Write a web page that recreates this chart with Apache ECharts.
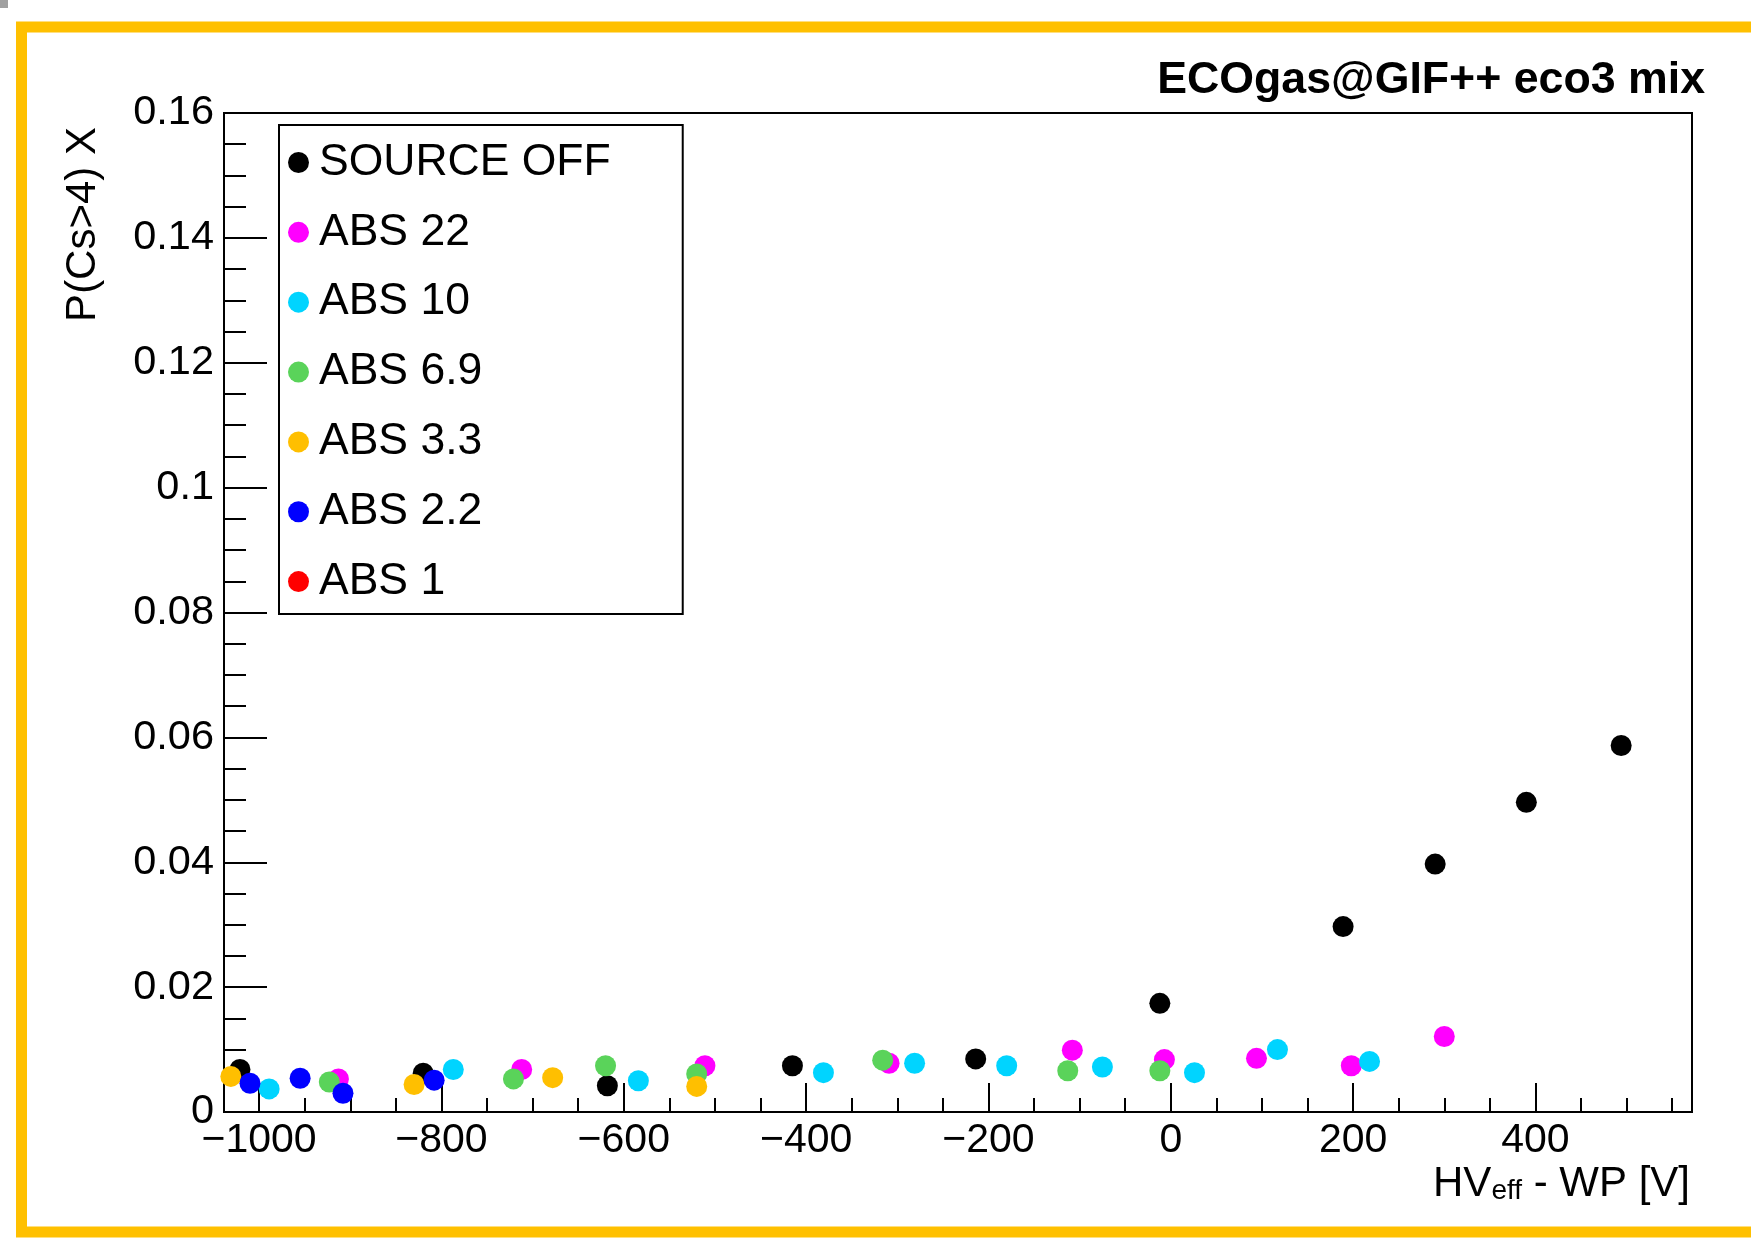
<!DOCTYPE html>
<html><head><meta charset="utf-8">
<script src="https://cdn.jsdelivr.net/npm/echarts@6/dist/echarts.min.js"></script>
<style>html,body{margin:0;padding:0;background:#fff}#c{width:1751px;height:1240px}</style>
</head><body><div id="c"></div>
<script>
const FONT = '"Liberation Sans", Arial, Helvetica, sans-serif';

// ---- data ----
const seriesNames = ['SOURCE OFF', 'ABS 22', 'ABS 10', 'ABS 6.9', 'ABS 3.3', 'ABS 2.2', 'ABS 1'];
const seriesColors = ['#000000', '#ff00ff', '#00d4ff', '#5ad35a', '#ffbf00', '#0000ff', '#ff0000'];

const sourceOffX = [-1021, -820, -618, -415, -214, -12, 189, 290, 390, 494];
const sourceOffY = [0.0068, 0.0062, 0.0042, 0.0074, 0.0085, 0.0174, 0.0297, 0.0397, 0.0496, 0.0587];

const abs22X = [-913, -712, -511, -309, -108, -7, 94, 198, 300];
const abs22Y = [0.0053, 0.0068, 0.0074, 0.0078, 0.0099, 0.0084, 0.0086, 0.0074, 0.0121];

const abs10X = [-989, -787, -584, -381, -281, -180, -75, 26, 117, 218];
const abs10Y = [0.0037, 0.0068, 0.0050, 0.0063, 0.0078, 0.0074, 0.0072, 0.0063, 0.0100, 0.0081];

const abs6p9X = [-923, -721, -620, -520, -316, -113, -12];
const abs6p9Y = [0.0048, 0.0053, 0.0074, 0.0061, 0.0083, 0.0066, 0.0066];

const abs3p3X = [-1031, -830, -678, -520];
const abs3p3Y = [0.0057, 0.0044, 0.0055, 0.0041];

const abs2p2X = [-1010, -955, -908, -808];
const abs2p2Y = [0.0046, 0.0054, 0.0030, 0.0051];

const abs1X = [];
const abs1Y = [];

const xMajorTicks = [-1000, -800, -600, -400, -200, 0, 200, 400];
const xMinorTicks = [-1000, -950, -900, -850, -800, -750, -700, -650, -600, -550, -500, -450, -400,
  -350, -300, -250, -200, -150, -100, -50, 0, 50, 100, 150, 200, 250, 300, 350, 400, 450, 500, 550];

const X_MIN = -1038.5, X_MAX = 571.7;
const Y_MIN = 0, Y_MAX = 0.16, Y_STEP = 0.02;

const titleText = 'ECOgas@GIF++ eco3 mix';
const yTitle = 'P(Cs>4) X';

// ---- build ----
const allX = [sourceOffX, abs22X, abs10X, abs6p9X, abs3p3X, abs2p2X, abs1X];
const allY = [sourceOffY, abs22Y, abs10Y, abs6p9Y, abs3p3Y, abs2p2Y, abs1Y];

const series = seriesNames.map((name, i) => ({
  name: name,
  type: 'scatter',
  xAxisIndex: 0,
  yAxisIndex: 0,
  symbol: 'circle',
  symbolSize: 21,
  itemStyle: { color: seriesColors[i], opacity: 1 },
  emphasis: { disabled: true },
  data: allX[i].map((x, k) => [x, allY[i][k]])
}));

const minusFmt = v => (v < 0 ? '\u2212' + Math.abs(v) : String(v));

const option = {
  animation: false,
  backgroundColor: '#ffffff',
  title: {
    text: titleText,
    right: 46,
    top: 58,
    padding: 0,
    textStyle: { fontFamily: FONT, fontSize: 44.7, fontWeight: 'bold', color: '#000' }
  },
  legend: {
    orient: 'vertical',
    left: 279,
    top: 125,
    padding: [15, 72, 10, 9],
    borderColor: '#000',
    borderWidth: 2,
    backgroundColor: '#fff',
    itemWidth: 31,
    itemHeight: 21,
    itemGap: 24.85,
    icon: 'circle',
    selectedMode: false,
    textStyle: { fontFamily: FONT, fontSize: 44.5, lineHeight: 44, color: '#000' },
    data: seriesNames
  },
  grid: {
    left: 224, top: 113, width: 1468, height: 999,
    show: true, borderColor: '#000', borderWidth: 2, backgroundColor: 'transparent',
    containLabel: false, outerBoundsMode: 'none'
  },
  xAxis: [{
    type: 'value', min: X_MIN, max: X_MAX, position: 'bottom',
    axisLine: { show: true, onZero: false, lineStyle: { color: '#000', width: 2 } },
    axisTick: { show: true, inside: true, length: 29, customValues: xMajorTicks, lineStyle: { color: '#000', width: 2 } },
    axisLabel: { show: true, customValues: xMajorTicks, formatter: minusFmt, margin: 8,
      fontFamily: FONT, fontSize: 41, color: '#000' },
    splitLine: { show: false }
  }, {
    type: 'value', min: X_MIN, max: X_MAX, position: 'top', offset: -999, gridIndex: 0,
    axisLine: { show: false },
    axisTick: { show: true, inside: false, length: 14, customValues: xMinorTicks, lineStyle: { color: '#000', width: 2 } },
    axisLabel: { show: false },
    splitLine: { show: false }
  }],
  yAxis: {
    type: 'value', min: Y_MIN, max: Y_MAX, interval: Y_STEP,
    axisLine: { show: true, onZero: false, lineStyle: { color: '#000', width: 2 } },
    axisTick: { show: true, inside: true, length: 43, lineStyle: { color: '#000', width: 2 } },
    minorTick: { show: true, splitNumber: 4, length: 22, lineStyle: { color: '#000', width: 2 } },
    axisLabel: { margin: 10, fontFamily: FONT, fontSize: 41.5, color: '#000',
      formatter: v => String(+v.toFixed(4)) },
    splitLine: { show: false },
    minorSplitLine: { show: false }
  },
  graphic: [
    { type: 'rect', z: -10, silent: true, shape: { x: 21.5, y: 27, width: 1800, height: 1205 },
      style: { fill: 'none', stroke: '#ffc000', lineWidth: 11 } },
    { type: 'rect', z: -10, silent: true, shape: { x: 0, y: 0, width: 8, height: 8 },
      style: { fill: '#a0a0a0' } },
    { type: 'text', silent: true, x: 83, y: 127, rotation: Math.PI / 2,
      style: { text: yTitle, fontFamily: FONT, fontSize: 42, fill: '#000', align: 'right', verticalAlign: 'middle' } },
    { type: 'text', silent: true, x: 1690, y: 1163,
      style: {
        text: '{a|HV}{b|eff}{a| - WP [V]}',
        align: 'right', verticalAlign: 'top',
        rich: {
          a: { fontFamily: FONT, fontSize: 42, lineHeight: 42, verticalAlign: 'top', fill: '#000' },
          b: { fontFamily: FONT, fontSize: 28, lineHeight: 28, verticalAlign: 'bottom', padding: [23, 0, 0, 0], fill: '#000' }
        }
      } }
  ],
  series: series
};

const chart = echarts.init(document.getElementById('c'), null, { renderer: 'canvas' });
chart.setOption(option);
</script>
</body></html>
